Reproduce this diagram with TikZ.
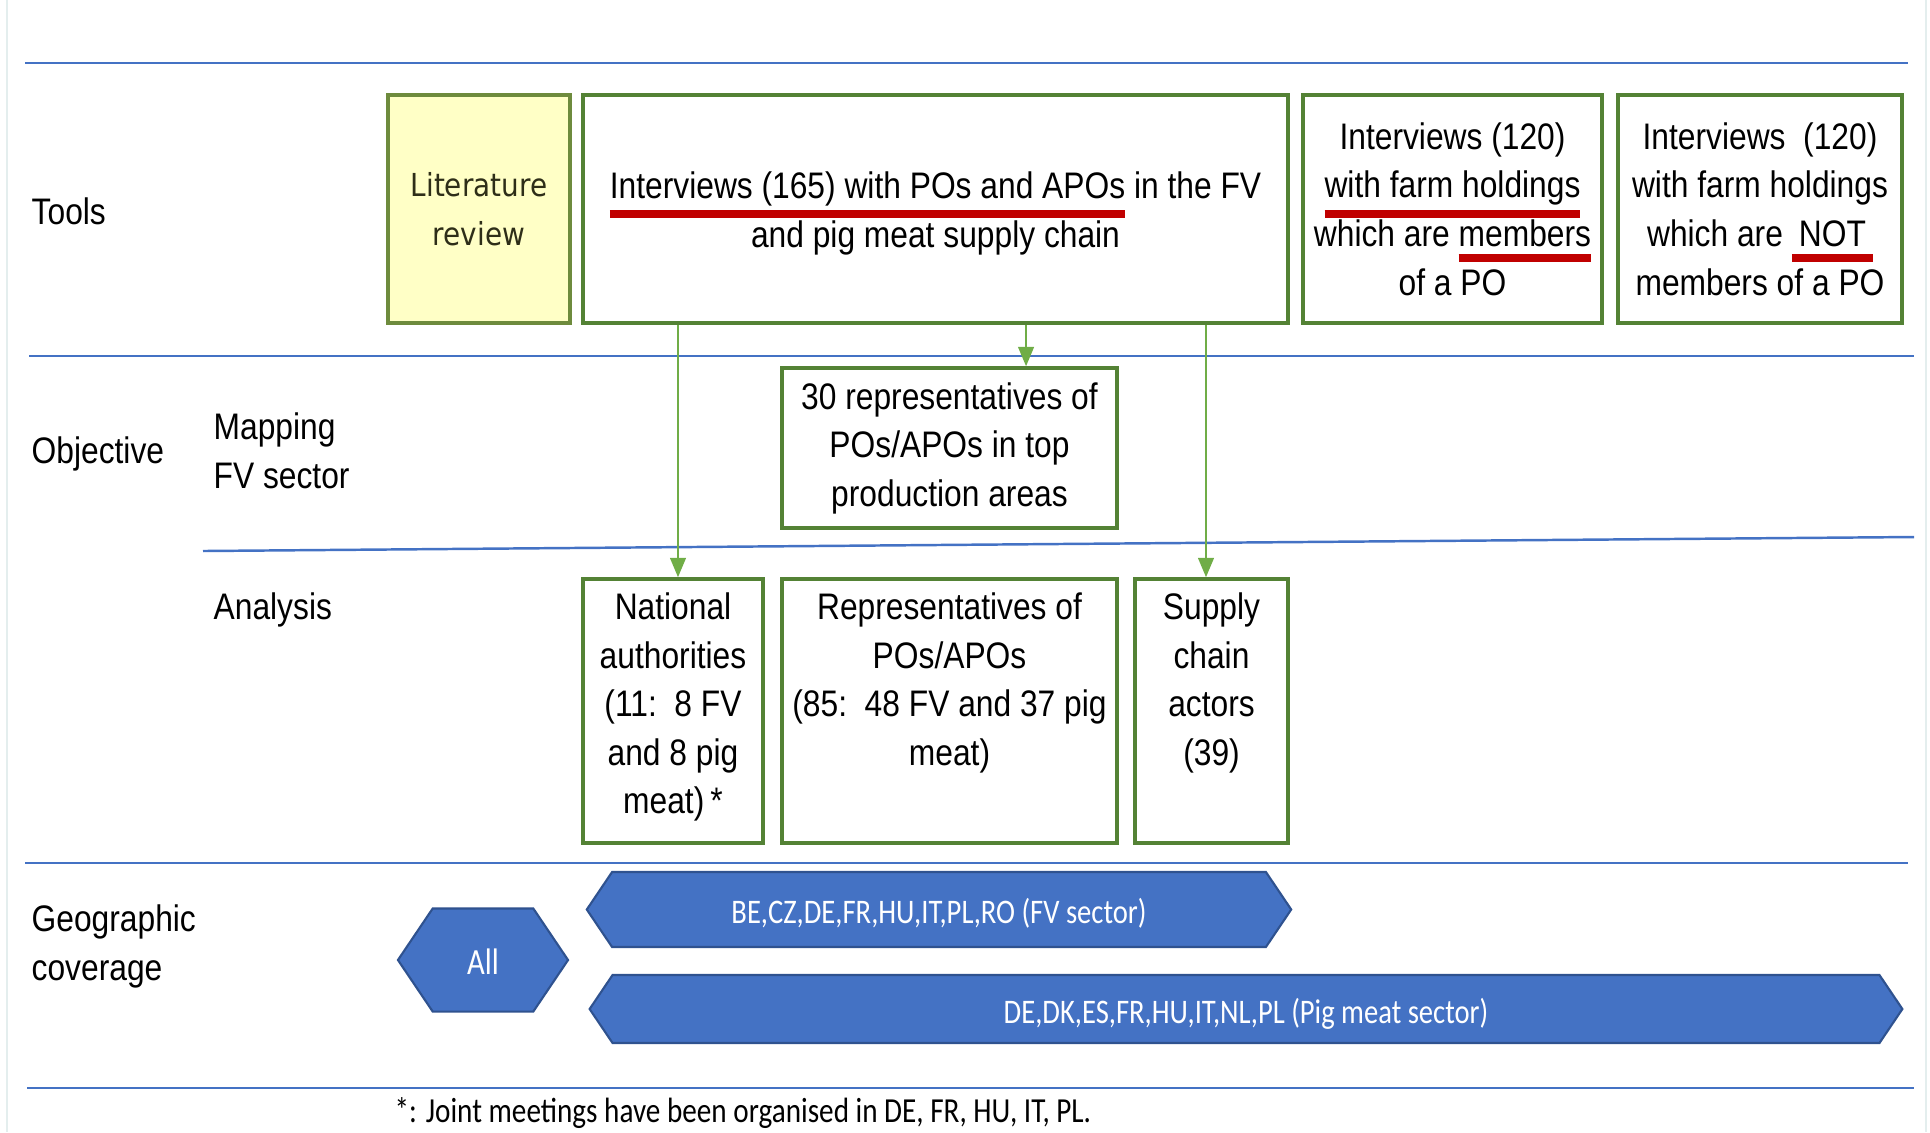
\documentclass[tikz,border=0pt]{standalone}
\usepackage{fontspec}
\usetikzlibrary{arrows.meta,shapes.symbols}
\setmainfont{Liberation Sans}[FakeStretch=0.86]
\newfontfamily\litfont{DejaVu Sans}[FakeStretch=0.88]
\newfontfamily\calfont{Carlito}[FakeStretch=0.83]
\definecolor{lineblue}{HTML}{4472C4}
\definecolor{boxgreen}{HTML}{548235}
\definecolor{arrgreen}{HTML}{70AD47}
\definecolor{ulred}{HTML}{C00000}
\definecolor{hexblue}{HTML}{4472C4}
\definecolor{hexedge}{HTML}{2F528F}
\definecolor{litfill}{HTML}{FFFFC6}
\definecolor{litedge}{HTML}{6E8B3D}
\definecolor{littext}{HTML}{2E2E18}
\definecolor{edgegray}{HTML}{E4EEEE}
\newcommand{\boxfont}{\fontsize{10.5pt}{13.8pt}\selectfont}
\newcommand{\hexfont}{\calfont\fontsize{9.8pt}{12pt}\selectfont}
\newsavebox{\ulbox}
% thick red underline, optional depth below the baseline
\newcommand{\redul}[2][5.6pt]{\leavevmode\sbox{\ulbox}{#2}\rlap{\color{ulred}\rule[-#1]{\wd\ulbox}{2.2pt}}\usebox{\ulbox}}
% text pinned to the top of a tall box
\newcommand{\topfill}[2]{\parbox[c][2.36cm][t]{#1}{\centering #2}}
\begin{document}
\begin{tikzpicture}[x=0.01cm,y=-0.01cm,
    box/.style={draw=boxgreen,line width=1pt,inner sep=0pt,align=center,font=\boxfont},
    arr/.style={-{Triangle[width=4.5pt,length=5.5pt]},draw=arrgreen,fill=arrgreen,line width=0.5pt},
    hex/.style={signal,signal to=west and east,signal pointer angle=112,fill=hexblue,draw=hexedge,line width=0.6pt,
        text=white,font=\hexfont,inner sep=0pt,text height=9pt,text depth=1pt},
    sep/.style={draw=lineblue,line width=0.7pt},
    lbl/.style={font=\boxfont,inner sep=0pt,align=left}]
    \useasboundingbox (0,0) rectangle (1930,1132);
    \draw[edgegray,line width=0.6pt] (7,0) -- (7,1132);
    \draw[edgegray,line width=0.6pt] (1926,0) -- (1926,1132);

    % row separators
    \draw[sep] (25,63) -- (1908,63);
    \draw[sep] (29,356) -- (1914,356);
    \draw[sep] (203,551) -- (1914,537);
    \draw[sep] (25,863) -- (1908,863);
    \draw[sep] (27,1088) -- (1914,1088);

    % row labels
    \node[lbl,anchor=base west] (tools) at (31,224) {Tools};
    \node[lbl,anchor=base west] (objective) at (31,463) {Objective};
    \node[lbl,anchor=north west] (mapping) at (213,412) {Mapping\\FV sector};
    \node[lbl,anchor=base west] (analysis) at (213,619) {Analysis};
    \node[lbl,anchor=north west] (geo) at (31,904) {Geographic\\coverage};

    % tools
    \node[box,fill=litfill,draw=litedge,minimum width=1.82cm,minimum height=2.28cm,
        font=\litfont\fontsize{9pt}{13.9pt}\selectfont,text=littext] (lit) at (479,209) {Literature\\review};
    \node[box,minimum width=7.05cm,minimum height=2.28cm] (int) at (935.5,209)
        {\rule{0pt}{10pt}\redul{Interviews (165) with POs and APOs} in the FV\\and pig meat supply chain};
    \node[box,minimum width=2.99cm,minimum height=2.28cm] (mem) at (1452.5,209)
        {Interviews (120)\\\redul{with farm holdings}\\which are \redul[4.3pt]{members}\\of a PO};
    \node[box,minimum width=2.84cm,minimum height=2.28cm] (notm) at (1760,209)
        {Interviews~~(120)\\with farm holdings\\which are~\redul[4.3pt]{\kern2pt NOT\kern2pt}\\members of a PO};

    % objective
    \node[box,minimum width=3.35cm,minimum height=1.60cm] (reps30) at (949.5,448)
        {30 representatives of\\POs/APOs in top\\production areas};
    \node[box,minimum width=1.80cm,minimum height=2.64cm] (nat) at (673,711)
        {\topfill{1.8cm}{National\\authorities\\(11:~~8 FV\\and 8 pig\\meat)\,*}};
    \node[box,minimum width=3.35cm,minimum height=2.64cm] (reps) at (949.5,711)
        {\topfill{3.35cm}{Representatives of\\POs/APOs\\(85:~~48 FV and 37 pig\\meat)}};
    \node[box,minimum width=1.53cm,minimum height=2.64cm] (supply) at (1211.5,711)
        {\topfill{1.53cm}{Supply\\chain\\actors\\(39)}};

    \draw[arr] ([xshift=0.05cm]int.south -| nat.north) -- ([xshift=0.05cm]nat.north);
    \draw[arr] ([xshift=0.765cm]int.south -| reps30.north) -- ([xshift=0.765cm]reps30.north);
    \draw[arr] ([xshift=-0.055cm]int.south -| supply.north) -- ([xshift=-0.055cm]supply.north);

    % geographic coverage
    \node[hex,minimum width=1.70cm,minimum height=1.03cm,font=\calfont\fontsize{10.5pt}{12pt}\selectfont] (all) at (483,960) {All};
    \node[hex,minimum width=7.04cm,minimum height=0.75cm] (fv) at (939,909.5) {BE,CZ,DE,FR,HU,IT,PL,RO (FV sector)};
    \node[hex,minimum width=13.12cm,minimum height=0.68cm] (pig) at (1246,1009) {DE,DK,ES,FR,HU,IT,NL,PL (Pig meat sector)};

    \node[anchor=base west,inner sep=0pt,font=\calfont\fontsize{10pt}{12pt}\selectfont] (note) at (394,1122)
        {*: Joint meetings have been organised in DE, FR, HU, IT, PL.};
\end{tikzpicture}
\end{document}
